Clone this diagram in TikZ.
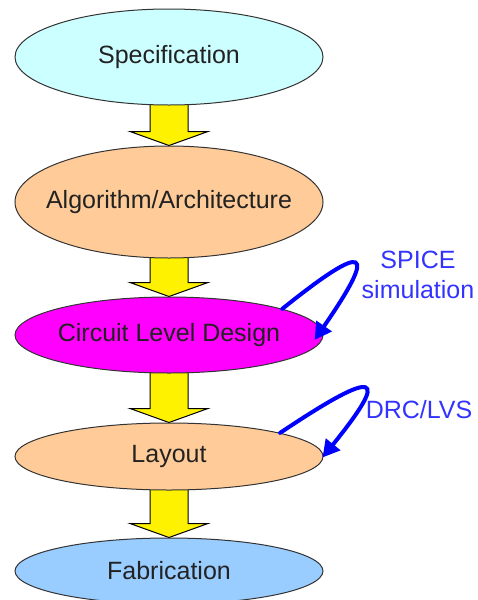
\documentclass[tikz,border=0pt]{standalone}
\usepackage{fontspec}
\setmainfont{Liberation Sans}
\usetikzlibrary{shapes.geometric,arrows.meta,calc,backgrounds}
\definecolor{speccol}{HTML}{CCFFFF}
\definecolor{peach}{HTML}{FFCC99}
\definecolor{magcol}{HTML}{FF00FF}
\definecolor{fabcol}{HTML}{99CCFF}
\definecolor{txtcol}{HTML}{222222}
\definecolor{loopcol}{HTML}{0000FF}
\definecolor{bluetxt}{HTML}{3333FF}
\definecolor{edgecol}{HTML}{333333}
\tikzset{
  stage/.style={ellipse, draw=edgecol, line width=1pt, inner xsep=-60pt, inner ysep=0pt,
    minimum width=308pt, text=txtcol, font=\fontsize{25}{30}\selectfont},
  note/.style={text=bluetxt, font=\fontsize{25}{30}\selectfont, align=center, inner sep=0pt},
  barrow/.style={draw=black, line width=1pt, fill=yellow, line join=miter},
  loopline/.style={draw=loopcol, line width=4pt, line cap=round,
    -{Triangle[length=17pt,width=18pt]}}
}
\newcommand{\blockarrow}[2]{%
  \draw[barrow] ($(#1.south)+(-19,-8)$) -- ($(#2.north)+(-19,-14)$) -- ($(#2.north)+(-39,-14)$)
    -- (#2.north) -- ($(#2.north)+(39,-14)$) -- ($(#2.north)+(19,-14)$) -- ($(#1.south)+(19,-8)$) -- cycle;}
\begin{document}
\begin{tikzpicture}[x=1pt,y=-1pt]
\useasboundingbox (0,0) rectangle (477,600);
\node[stage, fill=speccol, minimum height=96pt] (spec) at (169,57) {Specification};
\node[stage, fill=peach, minimum height=112pt] (alg) at (169,202) {Algorithm/Architecture};
\node[stage, fill=magcol, minimum height=76pt] (circ) at (169,335) {Circuit Level Design};
\node[stage, fill=peach, minimum height=67pt] (lay) at (169,456.5) {Layout};
\node[stage, fill=fabcol, minimum height=66pt] (fab) at (169,571) {Fabrication};
\begin{scope}[on background layer]
\blockarrow{spec}{alg}
\blockarrow{alg}{circ}
\blockarrow{circ}{lay}
\blockarrow{lay}{fab}
\end{scope}
\node[note] (spice) at (418,275) {SPICE\\simulation};
\node[note] (drc) at (419,410) {DRC/LVS};
\draw[loopline] (circ.13) .. controls (368,240) and (378,248) .. ($(circ.east)+(-9,5)$);
\draw[loopline] (lay.12) .. controls (380,366) and (390,374) .. ($(lay.east)+(-1,1)$);
\end{tikzpicture}
\end{document}
